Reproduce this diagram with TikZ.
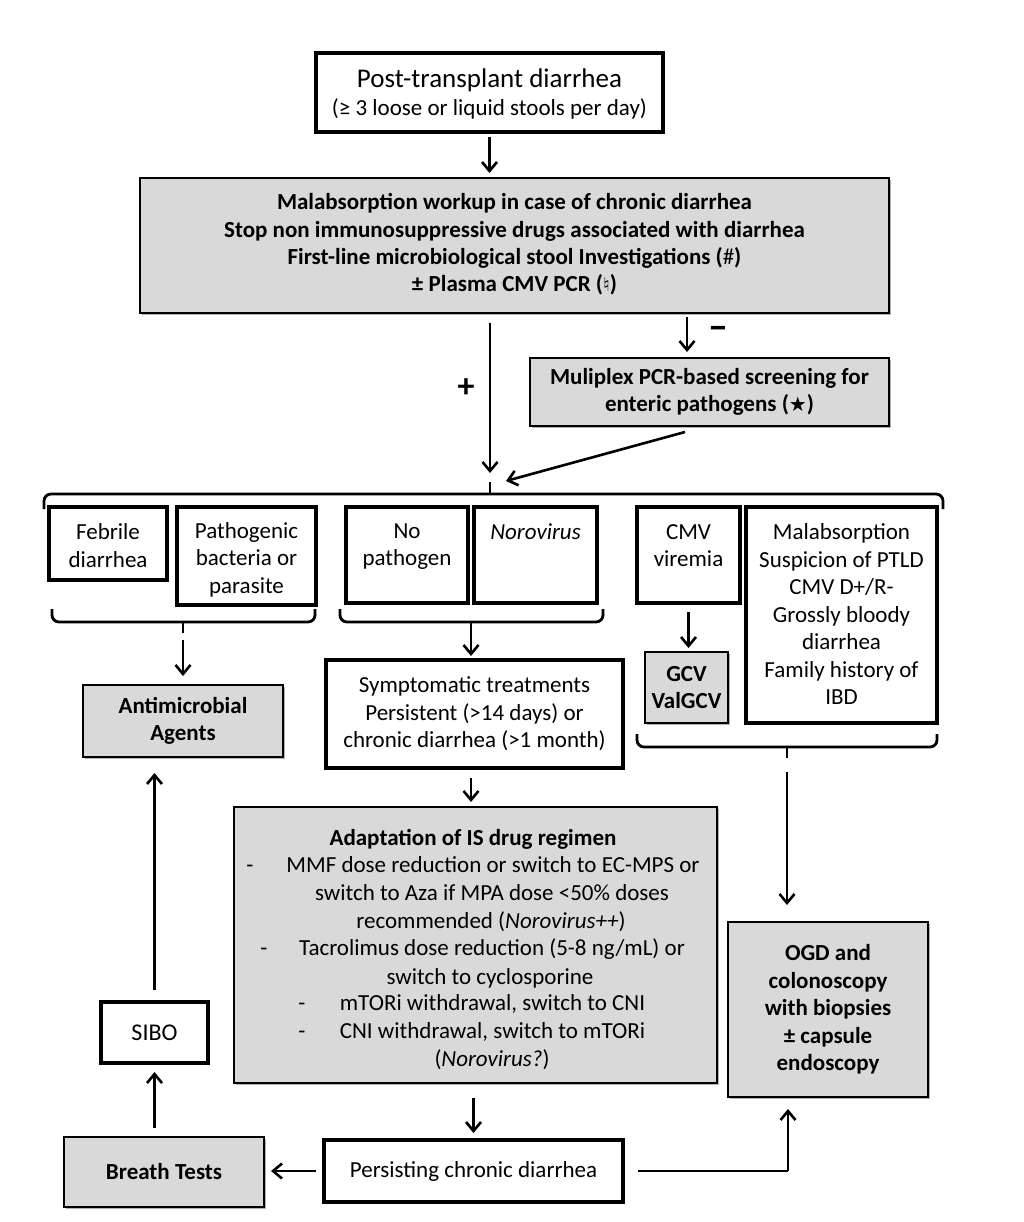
\documentclass[tikz,border=0pt]{standalone}
\usepackage{fontspec}
\setmainfont{Carlito}
\newfontfamily\symfont{DejaVu Sans}
\usetikzlibrary{arrows.meta,shadows,calc}
\definecolor{boxgray}{RGB}{217,217,217}
\begin{document}
\begin{tikzpicture}[x=1pt,y=-1pt,
  every node/.style={inner sep=0pt,outer sep=0pt},
  base/.style={draw=black,drop shadow={shadow xshift=2pt,shadow yshift=-2pt,opacity=0.3,fill=black}},
  wbox/.style={base,fill=white,line width=4.5pt,anchor=north west},
  gbox/.style={base,fill=boxgray,line width=1.6pt,anchor=north west},
  txt/.style={align=center,font=\fontsize{23}{27.5}\selectfont},
  btxt/.style={align=center,font=\fontsize{23}{27.5}\selectfont\bfseries},
  adl/.style={anchor=base,font=\fontsize{23}{27.5}\selectfont},
  arr/.style={line width=2.6pt,-{Straight Barb[length=9pt,width=15pt,line width=2.6pt]}},
  ln/.style={line width=2.8pt},
  brace/.style={line width=2.8pt,rounded corners=7pt},
]
\useasboundingbox (0,0) rectangle (1024,1222);
\fill[white] (0,0) rectangle (1024,1222);

% ---------- boxes ----------
\node[wbox,minimum width=347pt,minimum height=79pt] (top) at (316,53) {};
\node[font=\fontsize{27}{30}\selectfont] at (489.5,80) {Post-transplant diarrhea};
\node[font=\fontsize{23}{26}\selectfont] at (489.5,109) {(≥ 3 loose or liquid stools per day)};

\node[gbox,minimum width=749pt,minimum height=135pt] (g1) at (140,178) {};
\node[btxt,font=\fontsize{23}{27.3}\selectfont\bfseries] at ($(g1)+(0,-1)$) {Malabsorption workup in case of chronic diarrhea\\
Stop non immunosuppressive drugs associated with diarrhea\\
First-line microbiological stool Investigations (\textmd{\#})\\
± Plasma CMV PCR ({\mdseries\symfont\fontsize{19}{19}\selectfont ♮})};

\node[gbox,minimum width=359pt,minimum height=68pt] (mp) at (530,358) {};
\node[btxt] at (mp) {Muliplex PCR-based screening for\\enteric pathogens ({\symfont\fontsize{20}{20}\selectfont ★})};

% row of findings
\node[wbox,minimum width=118pt,minimum height=73pt] (feb) at (49,507) {};
\node[txt] at (108,545.5) {Febrile\\diarrhea};
\node[wbox,minimum width=139pt,minimum height=98pt] (pat) at (177,507) {};
\node[txt] at (246.5,559.5) {Pathogenic\\bacteria or\\parasite};
\node[wbox,minimum width=122pt,minimum height=96pt] (nop) at (346,507) {};
\node[txt] at (407,546.5) {No\\pathogen};
\node[wbox,minimum width=123pt,minimum height=96pt] (nor) at (474,507) {};
\node[txt] at (535.5,532) {\itshape Norovirus};
\node[wbox,minimum width=103pt,minimum height=96pt] (cmv) at (637,507) {};
\node[txt] at (688.5,545.5) {CMV\\viremia};
\node[wbox,minimum width=191pt,minimum height=216pt] (mal) at (746,507) {};
\node[txt] at (841.5,614.5) {Malabsorption\\Suspicion of PTLD\\CMV D+/R-\\Grossly bloody\\diarrhea\\Family history of\\IBD};

\node[gbox,minimum width=200pt,minimum height=72pt] (anti) at (83,685) {};
\node[btxt] at (anti) {Antimicrobial\\Agents};
\node[wbox,minimum width=297pt,minimum height=108pt] (sym) at (326,660) {};
\node[txt] at (sym) {Symptomatic treatments\\Persistent (>14 days) or\\chronic diarrhea (>1 month)};
\node[gbox,minimum width=83pt,minimum height=71pt] (gcv) at (645,652) {};
\node[btxt] at (gcv) {GCV\\ValGCV};

\node[gbox,minimum width=483pt,minimum height=276pt] (ad) at (234,807) {};
\node[adl] at (473,845) {\bfseries Adaptation of IS drug regimen};
\node[adl] at (250,872) {-};
\node[adl] at (493,872) {MMF dose reduction or switch to EC-MPS or};
\node[adl] at (492,900) {switch to Aza if MPA dose <50\% doses};
\node[adl] at (491,928) {recommended (\textit{Norovirus++})};
\node[adl] at (264,955) {-};
\node[adl] at (492,955) {Tacrolimus dose reduction (5-8 ng/mL) or};
\node[adl] at (490,984) {switch to cyclosporine};
\node[adl] at (302,1010) {-};
\node[adl] at (492.5,1010) {mTORi withdrawal, switch to CNI};
\node[adl] at (302,1038) {-};
\node[adl] at (492.5,1038) {CNI withdrawal, switch to mTORi};
\node[adl] at (492,1066) {(\textit{Norovirus?})};

\node[gbox,minimum width=200pt,minimum height=175pt] (ogd) at (728,922) {};
\node[btxt] at (ogd) {OGD and\\colonoscopy\\with biopsies\\± capsule\\endoscopy};

\node[wbox,minimum width=107pt,minimum height=61pt] (sibo) at (101,1002) {};
\node[font=\fontsize{24}{26}\selectfont] at (sibo) {SIBO};
\node[gbox,minimum width=200pt,minimum height=70pt] (br) at (64,1137) {};
\node[btxt] at (br) {Breath Tests};
\node[wbox,minimum width=299pt,minimum height=62pt] (per) at (324,1140) {};
\node[txt] at (per) {Persisting chronic diarrhea};

% ---------- labels ----------
\node[font=\fontsize{34}{34}\selectfont\bfseries] (plus) at (466,388) {+};
\node[font=\fontsize{40}{40}\selectfont\bfseries] (minus) at (718,333) {–};

% ---------- coordinates ----------
\coordinate (bt) at (490,482);
\coordinate (mpx) at (687,0);
\coordinate (dgs) at (685,432);
\coordinate (lbt) at (183,640);
\coordinate (rbt) at (787,772);
\coordinate (ogx) at (788,0);

% ---------- braces ----------
\draw[brace] (44,509) -- (44,494) -- (943,494) -- (943,509);
\draw[ln] (490,494) -- (bt);
\draw[brace] (52,609) -- (52,622) -- (315,622) -- (315,609);
\draw[ln] (183,622) -- (183,633);
\draw[brace] (340,609) -- (340,622) -- (603,622) -- (603,609);
\draw[brace] (637,734) -- (637,747) -- (937,747) -- (937,734);
\draw[ln] (787,747) -- (787,758);

% ---------- connectors ----------
\draw[arr,shorten <=5pt,shorten >=5pt] (top.south) -- (top.south |- g1.north);
\draw[arr,shorten <=10pt,shorten >=9pt] (g1.south -| bt) -- (bt);
\draw[arr,shorten <=4pt,shorten >=6pt] (g1.south -| mpx) -- (mpx |- mp.north);
\draw[arr] (dgs) -- ($(bt)+(16,-1)$);
\draw[arr,shorten >=9pt] (lbt) -- (lbt |- anti.north);
\draw[arr,shorten >=4pt] (471,622) -- (471,660);
\draw[arr,shorten <=9pt,shorten >=4pt] (cmv.south) -- (cmv.south |- gcv.north);
\draw[arr,shorten >=17pt] (rbt) -- (rbt |- ogd.north);
\draw[arr,shorten <=10pt,shorten >=5pt] (sym.south -| 471,0) -- (471,807);
\draw[arr,shorten <=15pt,shorten >=7pt] (ad.south -| per.north) -- (per.north);
\draw[arr,shorten <=8pt,shorten >=7pt] (per.west) -- (per.west -| br.east);
\draw[ln,shorten <=15pt] (per.east) -- (per.east -| ogx);
\draw[arr,shorten >=12pt] (per.east -| ogx) -- (ogx |- ogd.south);
\draw[arr,shorten <=9pt,shorten >=9pt] (br.north -| sibo.north) -- (sibo.south);
\draw[arr,shorten <=12pt,shorten >=16pt] (sibo.north) -- (sibo.north |- anti.south);
\end{tikzpicture}
\end{document}
